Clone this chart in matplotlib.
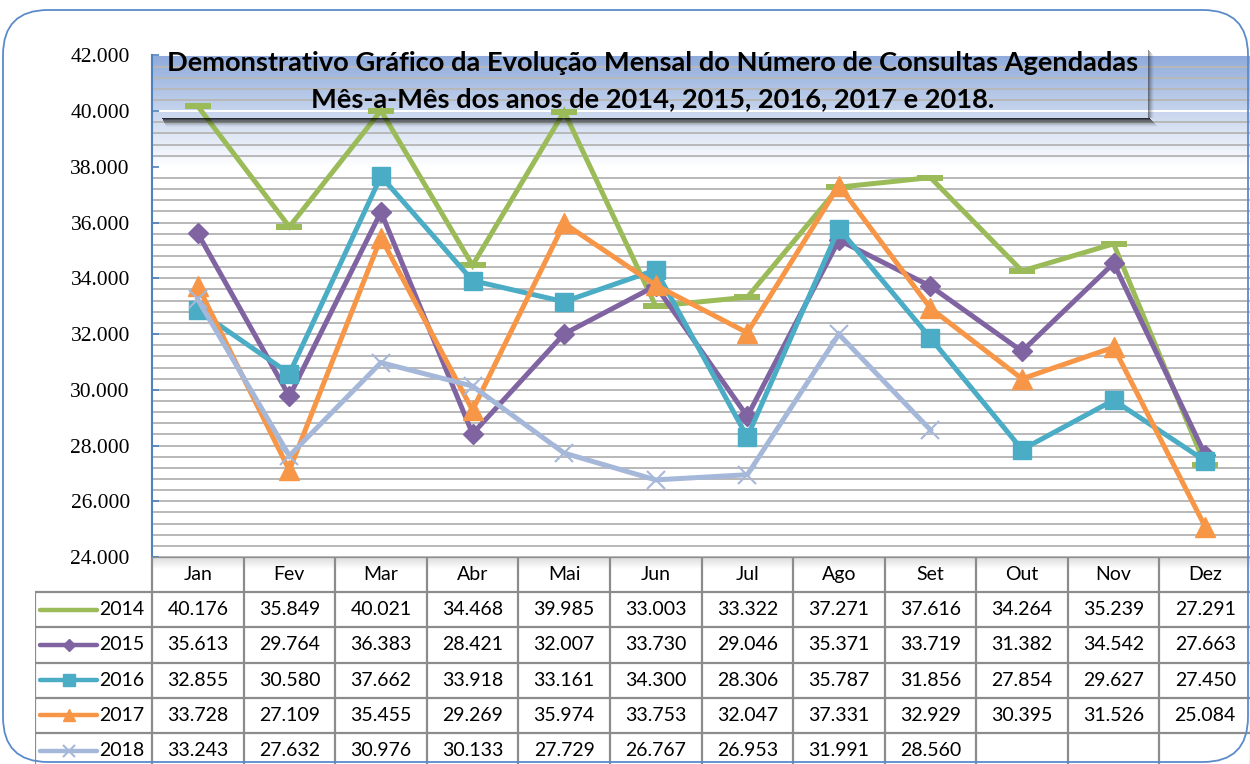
import numpy as np
import matplotlib.pyplot as plt
from matplotlib.patches import Rectangle, FancyBboxPatch
from matplotlib.colors import LinearSegmentedColormap
from matplotlib.ticker import FuncFormatter

months = ['Jan', 'Fev', 'Mar', 'Abr', 'Mai', 'Jun', 'Jul', 'Ago', 'Set', 'Out', 'Nov', 'Dez']
years = ['2014', '2015', '2016', '2017', '2018']
v2014 = [40176, 35849, 40021, 34468, 39985, 33003, 33322, 37271, 37616, 34264, 35239, 27291]
v2015 = [35613, 29764, 36383, 28421, 32007, 33730, 29046, 35371, 33719, 31382, 34542, 27663]
v2016 = [32855, 30580, 37662, 33918, 33161, 34300, 28306, 35787, 31856, 27854, 29627, 27450]
v2017 = [33728, 27109, 35455, 29269, 35974, 33753, 32047, 37331, 32929, 30395, 31526, 25084]
v2018 = [33243, 27632, 30976, 30133, 27729, 26767, 26953, 31991, 28560, None, None, None]
series = [v2014, v2015, v2016, v2017, v2018]

colors = ['#9bbb59', '#8064a2', '#4bacc6', '#f79646', '#a6b8d9']
# marker, size, edge width
mstyle = [('_', 19, 4.3), ('D', 10, 1), ('s', 13, 1), ('^', 14, 1), ('x', 13, 1.5)]

# axis numbers are in a Times-like face, everything else uses Lato explicitly
plt.rcParams['font.family'] = ['Liberation Serif', 'DejaVu Serif']

W, H = 1250, 764
fig = plt.figure(figsize=(W / 100, H / 100), dpi=100)


def fx(x):
    return x / W


def fy(y):
    return 1 - y / H


def px_rect(x0, y0, x1, y1, **kw):
    return Rectangle((x0 / 100, (H - y1) / 100), (x1 - x0) / 100, (y1 - y0) / 100,
                     transform=fig.dpi_scale_trans, **kw)


# outer rounded frame
frame = FancyBboxPatch((0.03, 0.02), 12.45, 7.52, boxstyle="round,pad=0,rounding_size=0.45",
                       transform=fig.dpi_scale_trans, fill=False, edgecolor='#5b8bcb', lw=1.3, zorder=0.5)
fig.add_artist(frame)

# ---- plot area
left, right, top, bottom = 152, 1251, 55.4, 557
ax = fig.add_axes([fx(left), fy(bottom), fx(right) - fx(left), fy(top) - fy(bottom)])
ax.set_facecolor('none')

grad = np.linspace(1, 0, 256).reshape(-1, 1)
cmap = LinearSegmentedColormap.from_list('bg', ['#ffffff', '#8eaadb'])
ax.imshow(grad, extent=[-0.5, 11.5, 38000, 42000], aspect='auto', cmap=cmap, zorder=0)

white_lines = [38000, 40000, 42000]
for v in range(24000, 42001, 400):
    ax.axhline(v, color='white' if v in white_lines else '#b8b8b8', lw=1.4, zorder=1)

x = np.arange(len(months))
for i, vals in enumerate(series):
    y = np.array([np.nan if v is None else v for v in vals], dtype=float)
    m, ms, mew = mstyle[i]
    ax.plot(x, y, color=colors[i], lw=3.6, marker=m, ms=ms, mew=mew,
            mec=colors[i], mfc=colors[i], zorder=3 + i, solid_joinstyle='miter')

ax.set_xlim(-0.5, 11.5)
ax.set_ylim(24000, 42000)
ax.set_xticks([])
ax.set_yticks(range(24000, 42001, 2000))
ax.yaxis.set_major_formatter(FuncFormatter(lambda v, p: f"{v / 1000:.3f}"))
for s in ['top', 'right', 'bottom']:
    ax.spines[s].set_visible(False)
ax.spines['left'].set_color('#4f81bd')
ax.spines['left'].set_linewidth(1.5)
ax.tick_params(axis='y', direction='in', length=5, width=1.2, color='#4f81bd', pad=16,
               labelsize=15.5, labelcolor='black')

# ---- data table
row_h = 35.2
leg_w = (152 - 35) / 91.58
tx = fig.add_axes([fx(35), fy(557 + 6 * row_h), fx(1251) - fx(35), fy(557) - fy(557 + 6 * row_h)])
tx.axis('off')

hdr = np.linspace(0, 1, 64).reshape(-1, 1)
tx.imshow(hdr, extent=[-0.5, 11.5, 0.35, 0], aspect='auto',
          cmap=LinearSegmentedColormap.from_list('h', ['#d8d8d8', '#ffffff']), zorder=0)
tx.set_xlim(-0.5 - leg_w, 11.5)
tx.set_ylim(6, 0)

gc = '#8c8c8c'
for r in range(0, 7):
    x0 = -0.5 if r == 0 else -0.5 - leg_w
    tx.plot([x0, 11.5], [r, r], color=gc, lw=1.6, solid_capstyle='butt', zorder=2)
for c in range(13):
    tx.plot([c - 0.5, c - 0.5], [0, 6], color=gc, lw=1.6, solid_capstyle='butt', zorder=2)
tx.plot([-0.5 - leg_w] * 2, [1, 6], color=gc, lw=1.6, solid_capstyle='butt', zorder=2)

tfont = dict(family='Lato', fontsize=14, color='black')
for c, mname in enumerate(months):
    tx.text(c, 0.5, mname, ha='center', va='center', **tfont)
for r, vals in enumerate(series):
    for c, v in enumerate(vals):
        if v is not None:
            tx.text(c, r + 1.5, f"{v / 1000:.3f}", ha='center', va='center', **tfont)
    # legend key
    lx0 = -0.5 - leg_w + (40 - 35) / 91.58
    lx1 = -0.5 - leg_w + (97 - 35) / 91.58
    m, ms, mew = mstyle[r]
    tx.plot([lx0, lx1], [r + 1.5] * 2, color=colors[r], lw=3.2, solid_capstyle='round', zorder=3)
    if m != '_':
        tx.plot([(lx0 + lx1) / 2], [r + 1.5], marker=m, ms=ms * 0.65, mew=mew, color=colors[r], zorder=4)
    tx.text(-0.5 - leg_w + (99 - 35) / 91.58, r + 1.5, years[r], ha='left', va='center', **tfont)

# ---- title box with drop shadow
for i in range(9):
    a = 0.8 * (1 - i / 9) ** 1.6
    fig.add_artist(px_rect(162 + i * 0.5, 118 + i, 1150 + i, 119 + i, color='black', alpha=a, lw=0, zorder=5))
for i in range(6):
    a = 0.45 * (1 - i / 6) ** 1.6
    fig.add_artist(px_rect(1148 + i, 50 + i, 1149 + i, 118, color='black', alpha=a, lw=0, zorder=5))

tkw = dict(ha='center', va='baseline', family='Lato', fontweight='bold', fontsize=19.6, color='black', zorder=6)
fig.text(fx(653), fy(71), 'Demonstrativo Gráfico da Evolução Mensal do Número de Consultas Agendadas', **tkw)
fig.text(fx(653), fy(107), 'Mês-a-Mês dos anos de 2014, 2015, 2016, 2017 e 2018.', **tkw)

fig.savefig('out.png', dpi=100)
